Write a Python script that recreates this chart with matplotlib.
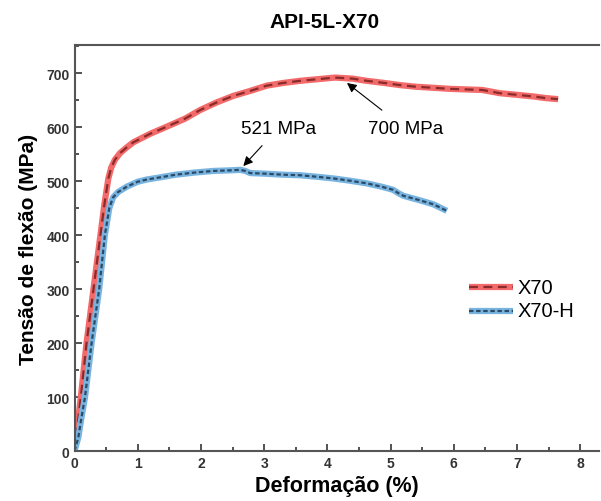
import matplotlib
matplotlib.use("Agg")
import matplotlib.pyplot as plt
from matplotlib.ticker import MultipleLocator

# X70 (curva vermelha)
def_x70 = [0, 0.10, 0.19, 0.30, 0.41, 0.47, 0.535, 0.58, 0.64, 0.72, 0.82, 0.93, 1.2, 1.46,
           1.75, 1.99, 2.25, 2.51, 2.8, 3.04, 3.3, 3.57, 3.85, 4.12, 4.4, 4.62, 4.9, 5.15,
           5.4, 5.68, 5.95, 6.2, 6.45, 6.73, 7.0, 7.26, 7.45, 7.65]
ten_x70 = [0, 100, 200, 300, 400, 455, 505, 525, 540, 552, 562, 572, 588, 601,
           616, 632, 646, 658, 668, 677, 682, 686, 689, 692, 690, 686, 682, 678,
           675, 673, 671, 670, 669, 663, 660, 657, 654, 652]

# X70-H (curva azul)
def_x70h = [0, 0.06, 0.10, 0.166, 0.27, 0.39, 0.48, 0.55, 0.61, 0.69, 0.83, 1.0, 1.14,
            1.35, 1.6, 1.9, 2.2, 2.45, 2.62, 2.7, 2.78, 3.0, 3.3, 3.57, 3.85, 4.1,
            4.35, 4.62, 4.85, 5.04, 5.12, 5.2, 5.45, 5.68, 5.89]
ten_x70h = [0, 25, 55, 100, 200, 300, 400, 450, 470, 480, 490, 499, 503,
            507, 512, 516, 519, 520, 521, 519, 515, 514, 512, 511, 508, 505,
            501, 496, 490, 484, 478, 473, 465, 457, 445]

bold_fam = ["Liberation Sans Narrow", "Liberation Sans", "DejaVu Sans"]
normal = ["Liberation Sans", "DejaVu Sans"]

fig = plt.figure(figsize=(6.01, 5.02), dpi=100)
ax = fig.add_axes([0.124, 0.0996, 0.873, 0.8084])

# linha larga clara + tracejado escuro por cima
ax.plot(def_x70, ten_x70, color="#f26a6a", lw=4.5, solid_capstyle="butt")
ax.plot(def_x70, ten_x70, color="#8a2a2a", lw=1.6, dashes=(4, 2.5))
ax.plot(def_x70h, ten_x70h, color="#78b4e0", lw=4.5, solid_capstyle="butt")
ax.plot(def_x70h, ten_x70h, color="#2c4a66", lw=1.6, dashes=(2, 1.2))

ax.set_xlim(0, 8.3)
ax.set_ylim(0, 752)
ax.xaxis.set_major_locator(MultipleLocator(1))
ax.xaxis.set_minor_locator(MultipleLocator(0.5))
ax.yaxis.set_major_locator(MultipleLocator(100))
ax.yaxis.set_minor_locator(MultipleLocator(50))
ax.tick_params(which="both", direction="in", color="#444444", width=1.3)
ax.tick_params(which="major", length=5, labelsize=10, labelcolor="#333333")
ax.tick_params(which="minor", length=3)
for s in ax.spines.values():
    s.set_color("#555555")
    s.set_linewidth(1.5)
ax.spines["right"].set_visible(False)
for lab in ax.get_xticklabels() + ax.get_yticklabels():
    lab.set_family(bold_fam)
    lab.set_fontweight("bold")

ax.set_xlabel("Deformação (%)", family=bold_fam, fontweight="bold", fontsize=15.5, labelpad=4)
ax.set_ylabel("Tensão de flexão (MPa)", family=bold_fam, fontweight="bold", fontsize=15, labelpad=6)
fig.text(0.54, 0.956, "API-5L-X70", family=bold_fam, fontweight="bold", fontsize=15,
         ha="center", va="center")

ax.annotate("521 MPa", xy=(2.67, 528), xytext=(3.22, 598), family=normal, fontsize=13.5,
            ha="center", va="center",
            arrowprops=dict(arrowstyle="-|>", color="black", lw=0.8, mutation_scale=14,
                            shrinkA=6, shrinkB=0))
ax.annotate("700 MPa", xy=(4.31, 682), xytext=(5.23, 598), family=normal, fontsize=13.5,
            ha="center", va="center",
            arrowprops=dict(arrowstyle="-|>", color="black", lw=0.8, mutation_scale=14,
                            shrinkA=8, shrinkB=0))

# legenda desenhada manualmente em coordenadas de eixo
leg_x = [0.752, 0.836]
ax.plot(leg_x, [0.404, 0.404], transform=ax.transAxes, color="#f26a6a", lw=4.5,
        solid_capstyle="butt")
ax.plot(leg_x, [0.404, 0.404], transform=ax.transAxes, color="#8a2a2a", lw=1.6,
        dashes=(4, 2.5))
ax.plot(leg_x, [0.345, 0.345], transform=ax.transAxes, color="#78b4e0", lw=4.5,
        solid_capstyle="butt")
ax.plot(leg_x, [0.345, 0.345], transform=ax.transAxes, color="#2c4a66", lw=1.6,
        dashes=(2, 1.2))
ax.text(0.845, 0.404, "X70", transform=ax.transAxes, family=normal, fontsize=14.5, va="center")
ax.text(0.845, 0.345, "X70-H", transform=ax.transAxes, family=normal, fontsize=14.5, va="center")

fig.savefig("out.png", dpi=100)
